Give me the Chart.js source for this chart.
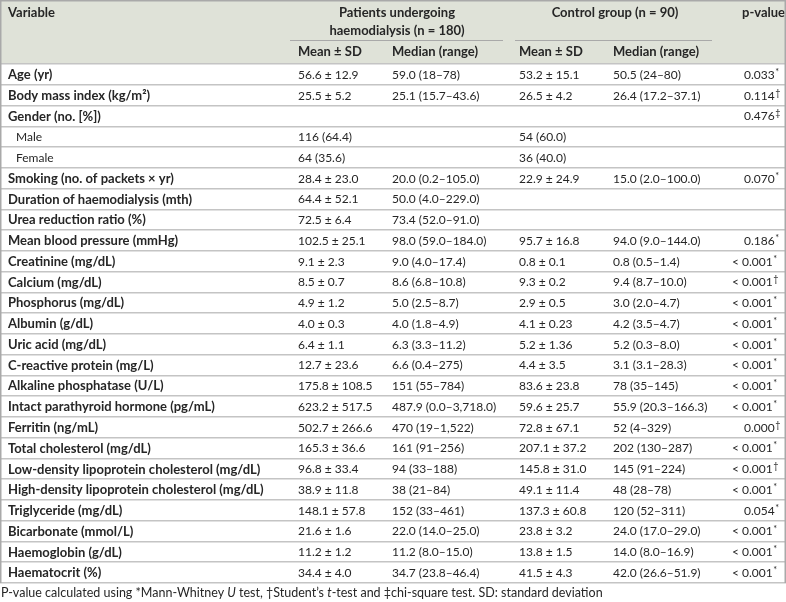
<!DOCTYPE html>
<html>
<head>
<meta charset="utf-8">
<script src="https://cdn.jsdelivr.net/npm/chart.js@4/dist/chart.umd.min.js"></script>
<style>
  html, body { margin: 0; padding: 0; background: #ffffff; }
  #wrap { width: 786px; height: 602px; }
</style>
</head>
<body>
<div id="wrap"><canvas id="c" width="786" height="602"></canvas></div>
<script>
// ---------- DATA ----------
const variables = [
  'Age (yr)', 'Body mass index (kg/m²)', 'Gender (no. [%])', 'Male', 'Female',
  'Smoking (no. of packets × yr)', 'Duration of haemodialysis (mth)', 'Urea reduction ratio (%)',
  'Mean blood pressure (mmHg)', 'Creatinine (mg/dL)', 'Calcium (mg/dL)', 'Phosphorus (mg/dL)',
  'Albumin (g/dL)', 'Uric acid (mg/dL)', 'C-reactive protein (mg/L)', 'Alkaline phosphatase (U/L)',
  'Intact parathyroid hormone (pg/mL)', 'Ferritin (ng/mL)', 'Total cholesterol (mg/dL)',
  'Low-density lipoprotein cholesterol (mg/dL)', 'High-density lipoprotein cholesterol (mg/dL)',
  'Triglyceride (mg/dL)', 'Bicarbonate (mmol/L)', 'Haemoglobin (g/dL)', 'Haematocrit (%)'
];
const subRows = ['Male', 'Female'];
const patientMeanSD = ['56.6 ± 12.9','25.5 ± 5.2','','116 (64.4)','64 (35.6)','28.4 ± 23.0','64.4 ± 52.1','72.5 ± 6.4','102.5 ± 25.1','9.1 ± 2.3','8.5 ± 0.7','4.9 ± 1.2','4.0 ± 0.3','6.4 ± 1.1','12.7 ± 23.6','175.8 ± 108.5','623.2 ± 517.5','502.7 ± 266.6','165.3 ± 36.6','96.8 ± 33.4','38.9 ± 11.8','148.1 ± 57.8','21.6 ± 1.6','11.2 ± 1.2','34.4 ± 4.0'];
const patientMedian = ['59.0 (18–78)','25.1 (15.7–43.6)','','','','20.0 (0.2–105.0)','50.0 (4.0–229.0)','73.4 (52.0–91.0)','98.0 (59.0–184.0)','9.0 (4.0–17.4)','8.6 (6.8–10.8)','5.0 (2.5–8.7)','4.0 (1.8–4.9)','6.3 (3.3–11.2)','6.6 (0.4–275)','151 (55–784)','487.9 (0.0–3,718.0)','470 (19–1,522)','161 (91–256)','94 (33–188)','38 (21–84)','152 (33–461)','22.0 (14.0–25.0)','11.2 (8.0–15.0)','34.7 (23.8–46.4)'];
const controlMeanSD = ['53.2 ± 15.1','26.5 ± 4.2','','54 (60.0)','36 (40.0)','22.9 ± 24.9','','','95.7 ± 16.8','0.8 ± 0.1','9.3 ± 0.2','2.9 ± 0.5','4.1 ± 0.23','5.2 ± 1.36','4.4 ± 3.5','83.6 ± 23.8','59.6 ± 25.7','72.8 ± 67.1','207.1 ± 37.2','145.8 ± 31.0','49.1 ± 11.4','137.3 ± 60.8','23.8 ± 3.2','13.8 ± 1.5','41.5 ± 4.3'];
const controlMedian = ['50.5 (24–80)','26.4 (17.2–37.1)','','','','15.0 (2.0–100.0)','','','94.0 (9.0–144.0)','0.8 (0.5–1.4)','9.4 (8.7–10.0)','3.0 (2.0–4.7)','4.2 (3.5–4.7)','5.2 (0.3–8.0)','3.1 (3.1–28.3)','78 (35–145)','55.9 (20.3–166.3)','52 (4–329)','202 (130–287)','145 (91–224)','48 (28–78)','120 (52–311)','24.0 (17.0–29.0)','14.0 (8.0–16.9)','42.0 (26.6–51.9)'];
const pValues = ['0.033*','0.114†','0.476‡','','','0.070*','','','0.186*','< 0.001*','< 0.001†','< 0.001*','< 0.001*','< 0.001*','< 0.001*','< 0.001*','< 0.001*','0.000†','< 0.001*','< 0.001†','< 0.001*','0.054*','< 0.001*','< 0.001*','< 0.001*'];
const headerVariable = 'Variable';
const headerPatients = ['Patients undergoing', 'haemodialysis (n = 180)'];
const headerControl = 'Control group (n = 90)';
const headerP = 'p-value';
const subHeaders = ['Mean ± SD', 'Median (range)', 'Mean ± SD', 'Median (range)'];
const footnote = [
  ['P-value calculated using *Mann-Whitney ', false], ['U', true], [' test, †Student\u2019s ', false],
  ['t', true], ['-test and ‡chi-square test. SD: standard deviation', false]
];

// ---------- LAYOUT / STYLE ----------
const FONT = 'Lato';
const FS = 12;
const FB = 13;
const TEXT = '#262626';
const HEADER_BG = '#dfe2d8';
const LINE = '#c4c4c4';
const BORDER = '#a9a9a9';
const COL = { variable: 8, sub: 16, pMean: 298, pMed: 392, cMean: 519, cMed: 613, pLeft: 744, pLess: 732 };
const GROUP = { pCenter: 397, pFrom: 290, pTo: 503, cCenter: 615, cFrom: 515, cTo: 712, pHead: 742 };
const HY = { line1: 13, line2: 31, rule: 40.5, sub: 52 };

function drawPValue(ctx, text, xs, y) {
  const sym = text.slice(-1);
  const num = text.slice(0, -1);
  const x0 = xs.getPixelForValue(num.startsWith('<') ? COL.pLess : COL.pLeft);
  ctx.textAlign = 'left';
  ctx.font = FS + 'px ' + FONT;
  const wNum = ctx.measureText(num).width;
  ctx.fillText(num, x0, y);
  ctx.font = (FS - 3) + 'px ' + FONT;
  ctx.fillText(sym, x0 + wNum + 0.5, y - 3);
}

const tablePlugin = {
  id: 'tablePlugin',
  beforeDraw(chart) {
    const ctx = chart.ctx, area = chart.chartArea;
    ctx.save();
    ctx.fillStyle = '#ffffff';
    ctx.fillRect(0, 0, chart.width, chart.height);
    ctx.fillStyle = HEADER_BG;
    ctx.fillRect(0, 0, chart.width, area.top);
    ctx.restore();
  },
  afterDraw(chart) {
    const ctx = chart.ctx, area = chart.chartArea;
    const xs = chart.scales.x, ys = chart.scales.y;
    ctx.save();
    ctx.fillStyle = TEXT;
    ctx.textBaseline = 'middle';

    // header
    ctx.font = 'bold ' + FB + 'px ' + FONT;
    ctx.textAlign = 'left';
    ctx.fillText(headerVariable, xs.getPixelForValue(COL.variable), HY.line1);
    ctx.fillText(headerP, xs.getPixelForValue(GROUP.pHead), HY.line1);
    ctx.textAlign = 'center';
    ctx.fillText(headerPatients[0], xs.getPixelForValue(GROUP.pCenter), HY.line1);
    ctx.fillText(headerPatients[1], xs.getPixelForValue(GROUP.pCenter), HY.line2);
    ctx.fillText(headerControl, xs.getPixelForValue(GROUP.cCenter), HY.line1);
    ctx.textAlign = 'left';
    const subX = [COL.pMean, COL.pMed, COL.cMean, COL.cMed];
    subHeaders.forEach((t, i) => ctx.fillText(t, xs.getPixelForValue(subX[i]), HY.sub));

    ctx.strokeStyle = BORDER;
    ctx.lineWidth = 1;
    ctx.beginPath();
    ctx.moveTo(xs.getPixelForValue(GROUP.pFrom), HY.rule);
    ctx.lineTo(xs.getPixelForValue(GROUP.pTo), HY.rule);
    ctx.moveTo(xs.getPixelForValue(GROUP.cFrom), HY.rule);
    ctx.lineTo(xs.getPixelForValue(GROUP.cTo), HY.rule);
    ctx.stroke();

    // body
    variables.forEach((v, i) => {
      const y = ys.getPixelForValue(i) + 0.5;
      const isSub = subRows.includes(v);
      ctx.textAlign = 'left';
      ctx.font = (isSub ? FS + 'px ' : 'bold ' + FB + 'px ') + FONT;
      ctx.fillText(v, xs.getPixelForValue(isSub ? COL.sub : COL.variable), y);
      ctx.font = FS + 'px ' + FONT;
      if (patientMeanSD[i]) ctx.fillText(patientMeanSD[i], xs.getPixelForValue(COL.pMean), y);
      if (patientMedian[i]) ctx.fillText(patientMedian[i], xs.getPixelForValue(COL.pMed), y);
      if (controlMeanSD[i]) ctx.fillText(controlMeanSD[i], xs.getPixelForValue(COL.cMean), y);
      if (controlMedian[i]) ctx.fillText(controlMedian[i], xs.getPixelForValue(COL.cMed), y);
      if (pValues[i]) drawPValue(ctx, pValues[i], xs, y);
    });

    // outer border
    ctx.strokeStyle = BORDER;
    ctx.lineWidth = 1.5;
    ctx.beginPath();
    ctx.moveTo(0.75, area.bottom);
    ctx.lineTo(0.75, 0.75);
    ctx.lineTo(chart.width - 0.75, 0.75);
    ctx.lineTo(chart.width - 0.75, area.bottom);
    ctx.stroke();

    // footnote
    ctx.textAlign = 'left';
    let fx = 1;
    const fy = area.bottom + 10;
    footnote.forEach(([t, it]) => {
      ctx.font = (it ? 'italic ' : '') + '12.5px ' + FONT;
      ctx.fillText(t, fx, fy);
      fx += ctx.measureText(t).width;
    });
    ctx.restore();
  }
};

new Chart(document.getElementById('c'), {
  type: 'bar',
  data: { labels: variables, datasets: [] },
  options: {
    indexAxis: 'y',
    responsive: false,
    animation: false,
    events: [],
    layout: { padding: { top: 64, bottom: 19, left: 0, right: 0 } },
    plugins: { legend: { display: false }, tooltip: { enabled: false } },
    scales: {
      x: { type: 'linear', min: 0, max: 786, display: false },
      y: {
        type: 'category',
        offset: true,
        ticks: { display: false },
        border: { display: false },
        grid: { offset: true, color: LINE, lineWidth: 1.5, drawTicks: false }
      }
    }
  },
  plugins: [tablePlugin]
});
</script>
</body>
</html>
